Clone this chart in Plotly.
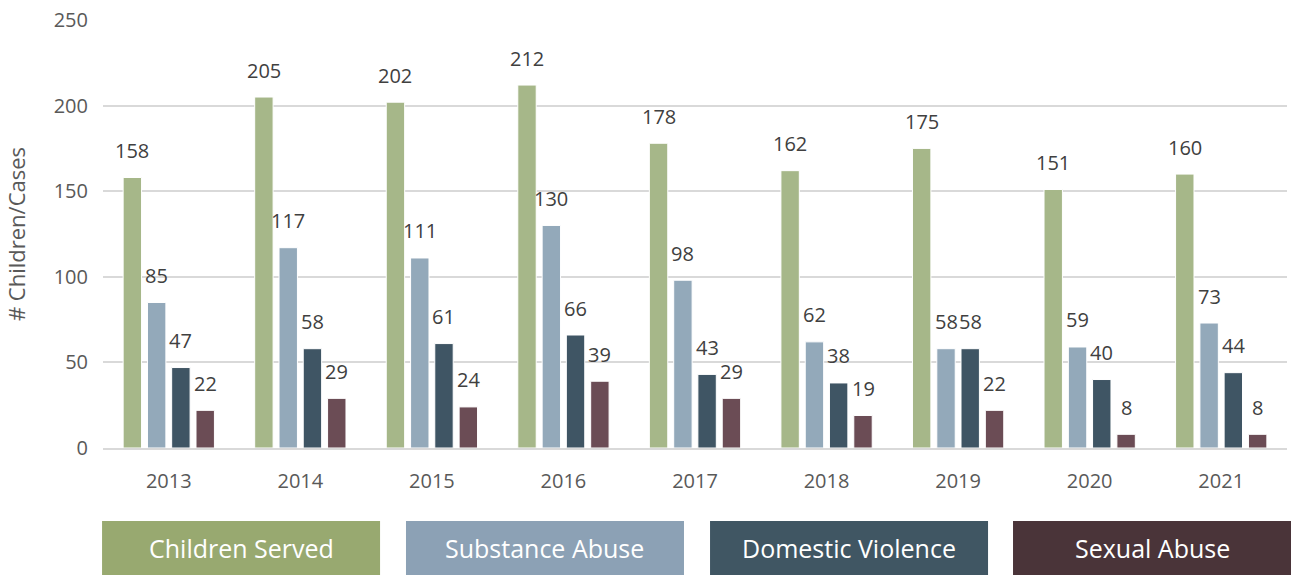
import plotly.graph_objects as go

years = ["2013", "2014", "2015", "2016", "2017", "2018", "2019", "2020", "2021"]
series_names = ["Children Served", "Substance Abuse", "Domestic Violence", "Sexual Abuse"]
children_served = [158, 205, 202, 212, 178, 162, 175, 151, 160]
substance_abuse = [85, 117, 111, 130, 98, 62, 58, 59, 73]
domestic_violence = [47, 58, 61, 66, 43, 38, 58, 40, 44]
sexual_abuse = [22, 29, 24, 39, 29, 19, 22, 8, 8]
y_ticks = [0, 50, 100, 150, 200, 250]

bar_colors = ["#A6B789", "#93A9BA", "#3F5564", "#6B4C55"]
legend_colors = ["#98A970", "#8CA1B5", "#405663", "#4A3439"]

series = [children_served, substance_abuse, domestic_violence, sexual_abuse]
centers = [-0.277, -0.092, 0.092, 0.277]
bw = 0.14

fig = go.Figure()
xs = list(range(len(years)))
annotations = []
for k, (name, vals) in enumerate(zip(series_names, series)):
    fig.add_trace(go.Bar(
        x=xs, y=vals, name=name,
        offset=centers[k] - bw / 2, width=bw,
        marker=dict(color=bar_colors[k], line=dict(color="white", width=1)),
        showlegend=False, hoverinfo="y",
    ))
    for i, v in enumerate(vals):
        annotations.append(dict(
            x=i + centers[k], y=v, xref="x", yref="y", text=str(v),
            showarrow=False, yanchor="middle", xanchor="center", yshift=27,
            font=dict(family="Open Sans", size=20, color="#404040"),
        ))

# legend boxes under the chart
box_x = [(-0.0008, 0.2340), (0.2559, 0.4907), (0.5127, 0.7475), (0.7686, 1.0034)]
shapes = []
for k, name in enumerate(series_names):
    x0, x1 = box_x[k]
    shapes.append(dict(type="rect", xref="paper", yref="paper",
                       x0=x0, x1=x1, y0=-0.2990, y1=-0.1706,
                       fillcolor=legend_colors[k], line=dict(width=0), layer="above"))
    annotations.append(dict(
        x=(x0 + x1) / 2, y=(-0.2990 - 0.1706) / 2, xref="paper", yref="paper",
        text=name, showarrow=False, xanchor="center", yanchor="middle",
        font=dict(family="Open Sans", size=25, color="white"),
    ))

fig.update_layout(
    width=1291, height=575,
    margin=dict(l=103, r=4, t=20, b=127),
    plot_bgcolor="white", paper_bgcolor="white",
    barmode="overlay",
    annotations=annotations, shapes=shapes,
    font=dict(family="Open Sans", size=20, color="#595959"),
    xaxis=dict(
        range=[-0.5, len(years) - 0.5],
        tickvals=xs, ticktext=years, showgrid=False,
        showline=True, linecolor="#D9D9D9", linewidth=2,
        ticks="", tickfont=dict(size=20, color="#595959"), ticklabelstandoff=14,
        zeroline=False, fixedrange=True,
    ),
    yaxis=dict(
        range=[0, 250], tickvals=y_ticks, showgrid=True, gridcolor="#D9D9D9", gridwidth=1.5,
        zeroline=False, ticks="", tickfont=dict(size=20, color="#595959"), ticklabelstandoff=14,
        title=dict(text="# Children/Cases", font=dict(size=22, color="#595959"), standoff=21),
        fixedrange=True,
    ),
)

fig.write_html("out.html", config={"displayModeBar": False},
               post_script="document.body.style.margin='0';document.body.style.overflow='hidden';")
